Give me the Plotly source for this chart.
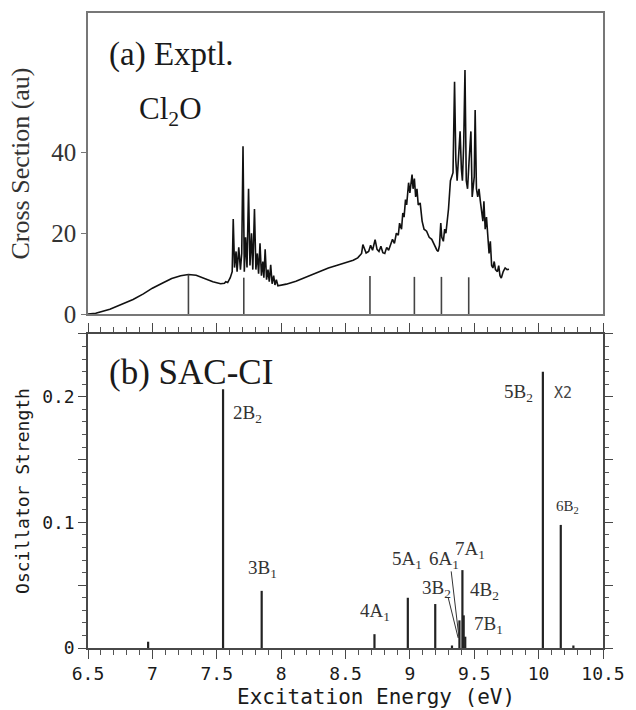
import plotly.graph_objects as go

# ---------------- data ----------------
# (a) experimental absorption cross section of Cl2O (read from picture)
exp_energy = [
    6.50, 6.56, 6.67, 6.78, 6.85, 6.93, 7.00, 7.08, 7.15, 7.22, 7.28, 7.34, 7.40, 7.47,
    7.53, 7.56, 7.57, 7.585, 7.605, 7.620, 7.628, 7.638, 7.650, 7.658, 7.671, 7.684,
    7.694, 7.704, 7.714, 7.724, 7.735, 7.747, 7.758, 7.770, 7.780, 7.793, 7.804, 7.815,
    7.825, 7.836, 7.847, 7.858, 7.866, 7.876, 7.887, 7.898, 7.908, 7.919, 7.930, 7.942,
    7.952, 7.963, 7.975, 8.00, 8.04, 8.115, 8.20, 8.27, 8.367, 8.43, 8.496, 8.56, 8.595,
    8.61, 8.625, 8.635, 8.645, 8.66, 8.68, 8.695, 8.71, 8.73, 8.745, 8.76, 8.775, 8.79,
    8.805, 8.82, 8.835, 8.85, 8.865, 8.88, 8.895, 8.91, 8.92, 8.935, 8.945, 8.955, 8.966,
    8.975, 8.99, 9.00, 9.01, 9.017, 9.025, 9.035, 9.045, 9.055, 9.065, 9.08, 9.095, 9.11,
    9.13, 9.15, 9.17, 9.19, 9.21, 9.22, 9.23, 9.24, 9.248, 9.26, 9.27, 9.28, 9.29, 9.30,
    9.315, 9.325, 9.335, 9.347, 9.357, 9.367, 9.377, 9.390, 9.400, 9.408, 9.418, 9.428,
    9.438, 9.448, 9.46, 9.474, 9.484, 9.492, 9.50, 9.507, 9.517, 9.527, 9.537, 9.547,
    9.557, 9.567, 9.575, 9.585, 9.595, 9.605, 9.615, 9.625, 9.635, 9.645, 9.655, 9.665,
    9.68, 9.69, 9.70, 9.71, 9.725, 9.74, 9.755, 9.77,
]
exp_cross = [
    0.0, 0.2, 1.2, 2.6, 3.6, 5.0, 6.4, 7.7, 8.8, 9.5, 9.8, 9.6, 8.9, 8.0,
    7.5, 7.6, 8.0, 7.8, 9.0, 10.5, 23.5, 11.5, 15.5, 10.5, 16.5, 11.0,
    15.0, 41.5, 10.5, 19.0, 11.5, 31.0, 12.0, 20.0, 11.0, 26.0, 11.0, 15.0,
    10.0, 17.5, 9.5, 13.0, 9.0, 16.0, 8.5, 11.0, 8.0, 12.2, 7.5, 9.5,
    7.2, 8.5, 7.0, 7.1, 7.4, 8.1, 9.2, 10.2, 11.4, 12.0, 12.7, 13.3, 13.9,
    14.5, 15.0, 17.2, 16.5, 15.1, 15.5, 17.0, 15.8, 18.4, 16.0, 15.5, 16.8, 15.2,
    15.0, 16.5, 15.8, 17.0, 18.5, 17.5, 20.0, 19.5, 22.5, 21.0, 25.0, 24.0, 28.3,
    27.0, 32.5, 30.0, 33.0, 34.5, 31.0, 33.5, 29.0, 31.0, 27.0, 27.5, 23.0, 21.0,
    20.5, 19.0, 18.5, 17.0, 15.8, 15.5, 17.0, 22.5, 19.0, 18.0, 21.0, 20.0, 23.0, 26.0,
    33.0, 34.0, 35.0, 57.5, 38.0, 33.0, 38.0, 45.2, 36.0, 33.0, 42.0, 60.4,
    33.0, 31.0, 38.0, 45.2, 29.0, 31.0, 34.0, 50.5, 31.0, 29.0, 31.0, 28.0,
    25.0, 23.0, 27.9, 21.0, 24.0, 20.0, 15.0, 18.0, 12.0, 11.4, 13.0, 11.0,
    10.5, 12.0, 9.5, 8.9, 10.5, 11.4, 11.0, 11.1,
]
# experimental band positions (vertical markers in panel a)
band_energy = [7.28, 7.71, 8.69, 9.035, 9.245, 9.457]
band_height = [9.8, 9.0, 9.4, 9.2, 9.2, 9.1]

# (b) SAC-CI excitation energies and oscillator strengths
calc_energy = [6.967, 7.549, 7.849, 8.725, 8.984, 9.197, 9.327, 9.385, 9.408, 9.418, 9.430, 10.033, 10.172, 10.27]
calc_strength = [0.005, 0.206, 0.0455, 0.011, 0.040, 0.035, 0.002, 0.022, 0.062, 0.026, 0.009, 0.220, 0.098, 0.002]

state_labels = ["2B<sub>2</sub>", "3B<sub>1</sub>", "4A<sub>1</sub>", "5A<sub>1</sub>", "3B<sub>2</sub>",
                "6A<sub>1</sub>", "7A<sub>1</sub>", "4B<sub>2</sub>", "7B<sub>1</sub>", "5B<sub>2</sub>",
                "6B<sub>2</sub>"]

x_tick_vals = [6.5, 7.0, 7.5, 8.0, 8.5, 9.0, 9.5, 10.0, 10.5]
x_tick_text = ["6.5", "7", "7.5", "8", "8.5", "9", "9.5", "10", "10.5"]
y_tick_vals = [0, 0.05, 0.1, 0.15, 0.2, 0.25]
y_tick_text = ["0", "", "0.1", "", "0.2", ""]
y2_tick_vals = [0, 20, 40]

# ---------------- figure ----------------
SERIF = "Liberation Serif, Times New Roman, serif"
MONO = "DejaVu Sans Mono, monospace"
INK = "#1a1a1a"
AX = "#484848"


def sticks(xs, hs):
    sx, sy = [], []
    for x, h in zip(xs, hs):
        sx += [x, x, None]
        sy += [0, h, None]
    return sx, sy


fig = go.Figure()

fig.add_trace(go.Scatter(x=exp_energy, y=exp_cross, mode="lines",
                         line=dict(color="#111111", width=1.6),
                         xaxis="x2", yaxis="y2", showlegend=False, hoverinfo="skip"))
bx, by = sticks(band_energy, band_height)
fig.add_trace(go.Scatter(x=bx, y=by, mode="lines", line=dict(color="#444444", width=1.6),
                         xaxis="x2", yaxis="y2", showlegend=False, hoverinfo="skip"))

cx, cy = sticks(calc_energy, calc_strength)
fig.add_trace(go.Scatter(x=cx, y=cy, mode="lines", line=dict(color="#222222", width=2.2),
                         xaxis="x", yaxis="y", showlegend=False, hoverinfo="skip"))

# same sticks, invisible, bound to the mirror axes so that they are drawn
fig.add_trace(go.Scatter(x=cx, y=cy, mode="lines", line=dict(color="rgba(0,0,0,0)", width=0.1),
                         xaxis="x3", yaxis="y3", showlegend=False, hoverinfo="skip"))

# leader lines for crowded labels
fig.add_trace(go.Scatter(x=[9.321, 9.382, None, 9.298, 9.375],
                         y=[0.061, 0.008, None, 0.040, 0.008],
                         mode="lines", line=dict(color="#333333", width=1),
                         xaxis="x", yaxis="y", showlegend=False, hoverinfo="skip"))

label_pos = [(7.742, 0.186), (7.856, 0.063), (8.732, 0.029), (8.976, 0.070), (9.205, 0.047),
             (9.262, 0.070), (9.468, 0.078), (9.578, 0.045), (9.607, 0.018), (9.845, 0.203),
             (10.222, 0.112)]
annotations = []
for text, (lx, ly) in zip(state_labels, label_pos):
    size = 15 if text.startswith("6B") else 19
    annotations.append(dict(x=lx, y=ly, xref="x", yref="y", text=text, showarrow=False,
                            font=dict(family=SERIF, size=size, color="#333333"),
                            xanchor="center", yanchor="middle"))
annotations.append(dict(x=10.19, y=0.203, xref="x", yref="y", text="X2", showarrow=False,
                        font=dict(family=MONO, size=15, color="#444444"),
                        xanchor="center", yanchor="middle"))
annotations.append(dict(x=0.036, y=0.861, xref="x2 domain", yref="y2 domain", text="(a) Exptl.",
                        showarrow=False, font=dict(family=SERIF, size=33, color=INK),
                        xanchor="left", yanchor="middle"))
annotations.append(dict(x=0.095, y=0.675, xref="x2 domain", yref="y2 domain", text="Cl<sub>2</sub>O",
                        showarrow=False, font=dict(family=SERIF, size=31, color=INK),
                        xanchor="left", yanchor="middle"))
annotations.append(dict(x=0.036, y=0.876, xref="x domain", yref="y domain", text="(b) SAC-CI",
                        showarrow=False, font=dict(family=SERIF, size=35, color=INK),
                        xanchor="left", yanchor="middle"))
annotations.append(dict(x=0.2857, y=-0.077, xref="paper", yref="paper", text="Excitation Energy (eV)",
                        showarrow=False, font=dict(family=MONO, size=21, color=INK),
                        xanchor="left", yanchor="middle"))

minor_x = dict(dtick=0.1, ticks="outside", ticklen=5, tickwidth=1.2, tickcolor="#555555")
minor_y = dict(dtick=0.01, ticks="outside", ticklen=4, tickwidth=1.2, tickcolor="#555555")

fig.update_layout(
    width=636, height=710,
    margin=dict(l=88, r=23, t=11, b=62),
    paper_bgcolor="white", plot_bgcolor="white",
    showlegend=False,
    annotations=annotations,
    xaxis=dict(domain=[0, 1], range=[6.5, 10.5], anchor="y",
               tickvals=x_tick_vals, ticktext=x_tick_text,
               ticks="outside", ticklen=9, tickwidth=1.4, tickcolor=AX,
               minor=minor_x,
               showline=True, linecolor=AX, linewidth=1.5, mirror=False,
               showgrid=False, zeroline=False,
               tickfont=dict(family=MONO, size=18, color=INK)),
    # top edge of panel (b): same scale, ticks only
    xaxis3=dict(overlaying="x", side="top", anchor="y3", range=[6.5, 10.5],
                tickvals=x_tick_vals, showticklabels=False,
                ticks="outside", ticklen=9, tickwidth=1.4, tickcolor=AX,
                minor=minor_x,
                showline=True, linecolor=AX, linewidth=1.5,
                showgrid=False, zeroline=False),
    yaxis=dict(domain=[0, 0.4945], range=[0, 0.25], anchor="x",
               tickvals=y_tick_vals, ticktext=y_tick_text,
               ticks="outside", ticklen=8, tickwidth=1.4, tickcolor=AX,
               minor=minor_y,
               showline=True, linecolor=AX, linewidth=1.5, mirror=False,
               showgrid=False, zeroline=False,
               tickfont=dict(family=MONO, size=18, color=INK),
               title=dict(text="Oscillator Strength", font=dict(family=MONO, size=18, color=INK),
                          standoff=8)),
    # right edge of panel (b)
    yaxis3=dict(overlaying="y", side="right", anchor="x3", range=[0, 0.25],
                tickvals=y_tick_vals, showticklabels=False,
                ticks="outside", ticklen=8, tickwidth=1.4, tickcolor=AX,
                minor=minor_y,
                showline=True, linecolor=AX, linewidth=1.5,
                showgrid=False, zeroline=False),
    xaxis2=dict(domain=[0, 1], range=[6.5, 10.5], anchor="y2",
                showticklabels=False, ticks="", showline=True, linecolor="#777777",
                linewidth=1.5, mirror=True, showgrid=False, zeroline=False),
    yaxis2=dict(domain=[0.5259, 1], range=[0, 74.5], anchor="x2",
                tickvals=y2_tick_vals, ticks="outside", ticklen=5, tickcolor="#777777",
                showline=True, linecolor="#777777", linewidth=1.5, mirror=True,
                showgrid=False, zeroline=False,
                tickfont=dict(family=SERIF, size=25, color="#333333"),
                title=dict(text="Cross Section (au)", font=dict(family=SERIF, size=26, color="#333333"),
                           standoff=14)),
)

fig.write_html("out.html")
